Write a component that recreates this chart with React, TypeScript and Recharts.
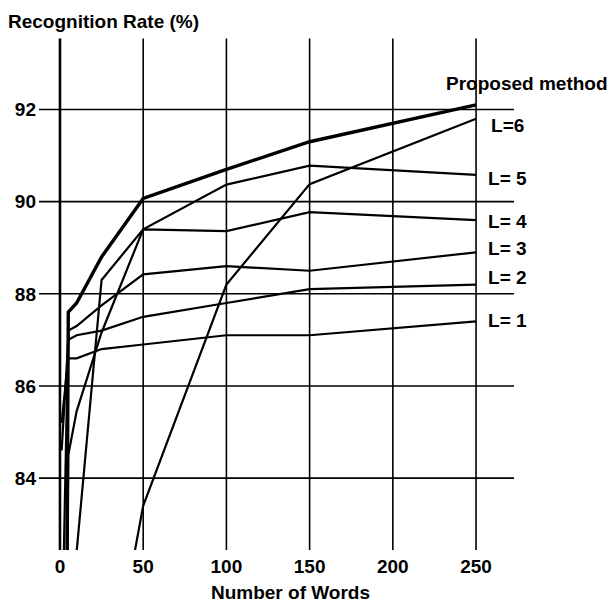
import React from 'react';
import {
  LineChart,
  Line,
  XAxis,
  YAxis,
  ReferenceLine,
  LabelList,
} from 'recharts';

// values (x = number of words)
const wordCounts = [1, 5, 10, 25, 50, 100, 150, 250];
const proposedRate = [60, 87.6, 87.8, 88.8, 90.07, 90.7, 91.3, 92.1];
const l6Rate = [60, 65, 70, 78.5, 83.4, 88.2, 90.38, 91.8];
const l5Rate = [50, 70, 82.4, 88.3, 89.4, 90.37, 90.78, 90.58];
const l4Rate = [60, 84.5, 85.45, 87.16, 89.4, 89.36, 89.77, 89.6];
const l3Rate = [80, 87.2, 87.3, 87.75, 88.42, 88.6, 88.5, 88.9];
const l2Rate = [84.6, 87.0, 87.1, 87.2, 87.5, 87.8, 88.1, 88.2];
const l1Rate = [85.2, 86.6, 86.6, 86.8, 86.9, 87.1, 87.1, 87.4];

const xTicks = [0, 50, 100, 150, 200, 250];
const yTicks = [84, 86, 88, 90, 92];

const FONT = '"Liberation Sans", Arial, Helvetica, sans-serif';

type Series = {
  key: string;
  name: string;
  values: number[];
  width: number;
  dx: number;
  dy: number;
};

const series: Series[] = [
  {key: 'proposed', name: 'Proposed method', values: proposedRate, width: 3.4, dx: -30, dy: -14.5},
  {key: 'l6', name: 'L=6', values: l6Rate, width: 2.2, dx: 15, dy: 13},
  {key: 'l5', name: 'L= 5', values: l5Rate, width: 2.2, dx: 12, dy: 10},
  {key: 'l4', name: 'L= 4', values: l4Rate, width: 2.2, dx: 12, dy: 8},
  {key: 'l3', name: 'L= 3', values: l3Rate, width: 2.2, dx: 12, dy: 3},
  {key: 'l2', name: 'L= 2', values: l2Rate, width: 2.2, dx: 12, dy: -1},
  {key: 'l1', name: 'L= 1', values: l1Rate, width: 2.2, dx: 12, dy: 6},
];

const toRows = (s: Series) =>
  wordCounts.map((x, i) => ({
    x,
    rate: s.values[i],
    tag: i === wordCounts.length - 1 ? s.name : null,
  }));

const textStyle = {
  fill: '#000',
  fontSize: 19,
  fontWeight: 'bold' as const,
  fontFamily: FONT,
};

export default function App() {
  return (
    <div style={{position: 'absolute', left: 0, top: 0, width: 612, height: 603, background: '#fff'}}>
      <LineChart width={612} height={603} margin={{top: 38.5, right: 98, bottom: 0, left: 0}}>
        <XAxis
          type="number"
          dataKey="x"
          domain={[-12.6, 272.8]}
          ticks={xTicks}
          interval={0}
          allowDataOverflow
          axisLine={false}
          tickLine={false}
          tickSize={0}
          tickMargin={10}
          height={53}
          tick={textStyle}
          label={{value: 'Number of Words', position: 'insideBottom', offset: 4, dx: 14, ...textStyle}}
        />
        <YAxis
          type="number"
          domain={[82.44, 93.54]}
          ticks={yTicks}
          interval={0}
          allowDataOverflow
          axisLine={false}
          tickLine={false}
          tickSize={0}
          tickMargin={3}
          width={39}
          tick={textStyle}
          label={{
            value: 'Recognition Rate (%)',
            content: () => (
              <text x={8} y={28} {...textStyle}>
                Recognition Rate (%)
              </text>
            ),
          }}
        />
        {/* grid */}
        {yTicks.map((t) => (
          <ReferenceLine key={`h${t}`} y={t} stroke="#000" strokeWidth={1.6} />
        ))}
        {xTicks.map((t) => (
          <ReferenceLine key={`v${t}`} x={t} stroke="#000" strokeWidth={t === 0 ? 2.6 : 1.6} />
        ))}
        {series.map((s) => (
          <Line
            key={s.key}
            data={toRows(s)}
            dataKey="rate"
            type="linear"
            stroke="#000"
            strokeWidth={s.width}
            dot={false}
            activeDot={false}
            isAnimationActive={false}
          >
            <LabelList
              dataKey="tag"
              content={(p: any) =>
                p.value ? (
                  <text x={Number(p.x) + s.dx} y={Number(p.y) + s.dy} {...textStyle}>
                    {p.value}
                  </text>
                ) : null
              }
            />
          </Line>
        ))}
      </LineChart>
    </div>
  );
}
